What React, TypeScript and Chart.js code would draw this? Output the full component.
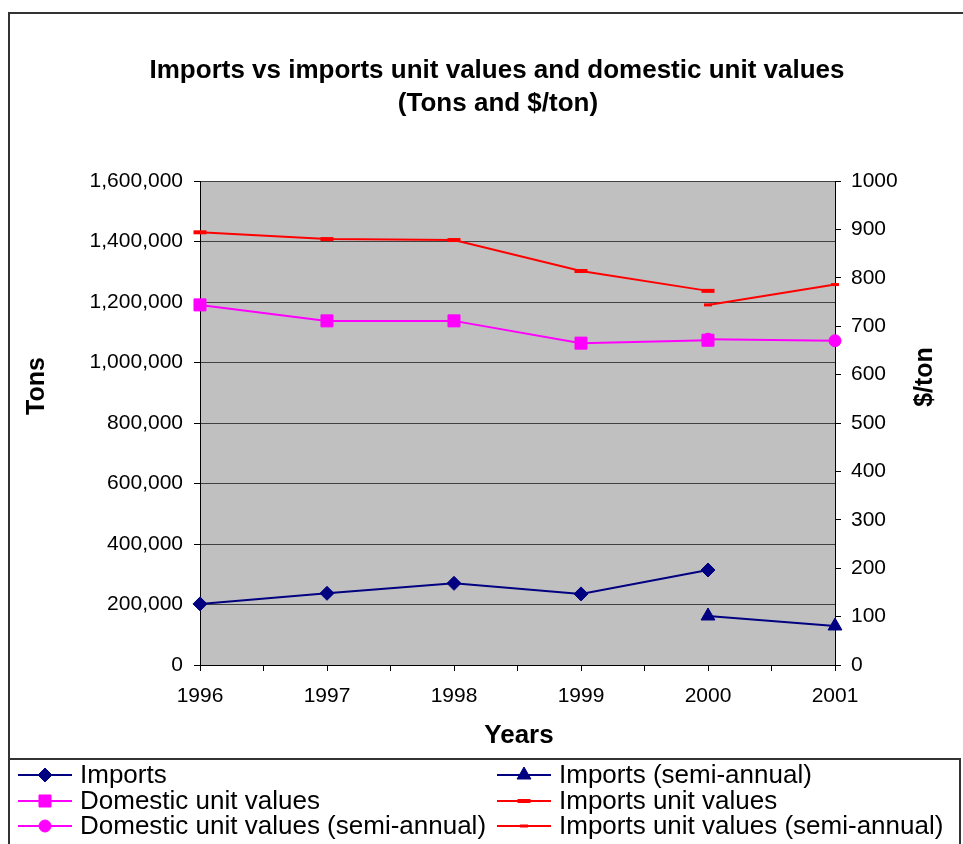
import React, { useEffect, useRef } from 'react';
import { Chart, registerables } from 'chart.js';
import { drawPoint } from 'chart.js/helpers';

Chart.register(...registerables);

// ---- data ----
const years = [1996, 1997, 1998, 1999, 2000];
const semiYears = [2000, 2001];
const xTickLabels = ['1996', '1997', '1998', '1999', '2000', '2001'];
const imports = [202000, 237000, 270000, 235000, 314000];
const importsSemi = [162000, 129000];
const domesticUnit = [744, 711, 711, 665, 671];
const domesticUnitSemi = [673, 670];
const importsUnit = [894, 880, 878, 814, 773];
const importsUnitSemi = [744, 786];

const titleLines = ['Imports vs imports unit values and domestic unit values', '(Tons and $/ton)'];
const leftTitle = 'Tons';
const rightTitle = '$/ton';
const xTitle = 'Years';
// legend grid (rows of dataset indexes: left column, right column)
const legendRows = [
  [0, 1],
  [2, 3],
  [4, 5],
];

const FONT = '"Liberation Sans", Arial, Helvetica, sans-serif';
const NAVY = '#000080';
const MAGENTA = '#FF00FF';
const RED = '#FF0000';

const pts = (xs: number[], ys: number[]) => xs.map((x, i) => ({ x, y: ys[i] }));

const decorPlugin = {
  id: 'decor',
  beforeDraw(chart: any) {
    const { ctx, chartArea: a } = chart;
    ctx.save();
    ctx.fillStyle = '#FFFFFF';
    ctx.fillRect(0, 0, chart.width, chart.height);
    ctx.fillStyle = '#C0C0C0';
    ctx.fillRect(a.left, a.top, a.right - a.left, a.bottom - a.top);
    ctx.restore();
  },
  afterDraw(chart: any) {
    const { ctx } = chart;
    ctx.save();
    // outer frame
    ctx.strokeStyle = '#333333';
    ctx.lineWidth = 2;
    ctx.beginPath();
    ctx.moveTo(9, 844);
    ctx.lineTo(9, 13);
    ctx.lineTo(963, 13);
    ctx.stroke();
    // legend box
    ctx.beginPath();
    ctx.moveTo(9, 759);
    ctx.lineTo(960, 759);
    ctx.lineTo(960, 844);
    ctx.stroke();

    // titles
    ctx.fillStyle = '#000';
    ctx.textAlign = 'center';
    ctx.textBaseline = 'middle';
    ctx.font = `bold 26px ${FONT}`;
    ctx.fillText(titleLines[0], 497, 71);
    ctx.fillText(titleLines[1], 498, 104);
    ctx.font = `bold 26px ${FONT}`;
    ctx.fillText(xTitle, 519, 736);
    ctx.font = `bold 25px ${FONT}`;
    ctx.save();
    ctx.translate(37, 386);
    ctx.rotate(-Math.PI / 2);
    ctx.fillText(leftTitle, 0, 0);
    ctx.restore();
    ctx.save();
    ctx.translate(925, 377);
    ctx.rotate(-Math.PI / 2);
    ctx.fillText(rightTitle, 0, 0);
    ctx.restore();

    // legend
    const colX = [18, 497];
    const rowY = [775, 801, 826];
    ctx.font = `26px ${FONT}`;
    ctx.textAlign = 'left';
    legendRows.forEach((row, r) => {
      row.forEach((di, c) => {
        const ds = chart.data.datasets[di];
        const x0 = colX[c];
        const y = rowY[r];
        ctx.strokeStyle = ds.borderColor;
        ctx.lineWidth = 2;
        ctx.beginPath();
        ctx.moveTo(x0, y);
        ctx.lineTo(x0 + 54, y);
        ctx.stroke();
        ctx.fillStyle = ds.pointBackgroundColor;
        ctx.strokeStyle = ds.pointBorderColor;
        ctx.lineWidth = ds.pointBorderWidth;
        drawPoint(ctx, {
          pointStyle: ds.pointStyle,
          radius: ds.pointRadius,
          borderWidth: ds.pointBorderWidth,
          rotation: 0,
        } as any, x0 + 27, y);
        ctx.fillStyle = '#000';
        ctx.textBaseline = 'middle';
        ctx.fillText(ds.label, x0 + 62, y + 1);
      });
    });
    ctx.restore();
  },
};

export default function App() {
  const ref = useRef<HTMLCanvasElement>(null);
  useEffect(() => {
    if (!ref.current) return;
    Chart.defaults.font.family = FONT;
    const mk = (label: string, data: any[], color: string, style: string, radius: number, bw: number, axis: string) => ({
      label,
      data,
      yAxisID: axis,
      borderColor: color,
      backgroundColor: color,
      borderWidth: 2,
      pointStyle: style,
      pointRadius: radius,
      pointBorderWidth: bw,
      pointBackgroundColor: color,
      pointBorderColor: color,
      tension: 0,
      fill: false,
      clip: false,
    });
    const chart = new Chart(ref.current, {
      type: 'line',
      data: {
        datasets: [
          mk('Imports', pts(years, imports), NAVY, 'rectRot', 7, 1, 'y'),
          mk('Imports (semi-annual)', pts(semiYears, importsSemi), NAVY, 'triangle', 8, 1, 'y'),
          mk('Domestic unit values', pts(years, domesticUnit), MAGENTA, 'rect', 8.5, 1, 'y1'),
          mk('Imports unit values', pts(years, importsUnit), RED, 'line', 6.5, 4, 'y1'),
          mk('Domestic unit values (semi-annual)', pts(semiYears, domesticUnitSemi), MAGENTA, 'circle', 6, 1, 'y1'),
          mk('Imports unit values (semi-annual)', pts(semiYears, importsUnitSemi), RED, 'line', 4, 3, 'y1'),
        ] as any,
      },
      options: {
        responsive: false,
        animation: false,
        devicePixelRatio: 1,
        events: [],
        layout: { padding: { left: 0, right: 0, top: 181, bottom: 139 } },
        plugins: {
          legend: { display: false },
          title: { display: false },
          tooltip: { enabled: false },
        },
        scales: {
          x: {
            type: 'linear',
            position: 'bottom',
            min: 1996,
            max: 2001,
            afterFit: (s: any) => { s.height = 40; },
            ticks: {
              stepSize: 0.5,
              autoSkip: false,
              maxRotation: 0,
              padding: 13,
              color: '#000',
              font: { size: 21, family: FONT },
              callback: (v: any) => (xTickLabels.includes(String(v)) ? String(v) : ''),
            },
            grid: { drawOnChartArea: false, drawTicks: true, tickLength: 6, tickColor: '#000' },
            border: { color: '#000', width: 1 },
          },
          y: {
            type: 'linear',
            position: 'left',
            min: 0,
            max: 1600000,
            afterFit: (s: any) => { s.width = 200; },
            ticks: {
              stepSize: 200000,
              padding: 11,
              color: '#000',
              font: { size: 21, family: FONT },
              callback: (v: any) => Number(v).toLocaleString('en-US'),
            },
            grid: { color: '#404040', tickColor: '#000', tickLength: 6, lineWidth: 1 },
            border: { color: '#000', width: 1 },
          },
          y1: {
            type: 'linear',
            position: 'right',
            min: 0,
            max: 1000,
            afterFit: (s: any) => { s.width = 128; },
            ticks: {
              stepSize: 100,
              padding: 10,
              color: '#000',
              font: { size: 21, family: FONT },
              callback: (v: any) => String(v),
            },
            grid: { drawOnChartArea: false, tickColor: '#000', tickLength: 6 },
            border: { color: '#000', width: 1 },
          },
        },
      } as any,
      plugins: [decorPlugin],
    });
    return () => chart.destroy();
  }, []);
  return (
    <div style={{ position: 'absolute', left: 0, top: 0, width: 963, height: 844 }}>
      <canvas ref={ref} width={963} height={844} style={{ width: 963, height: 844, display: 'block' }} />
    </div>
  );
}
